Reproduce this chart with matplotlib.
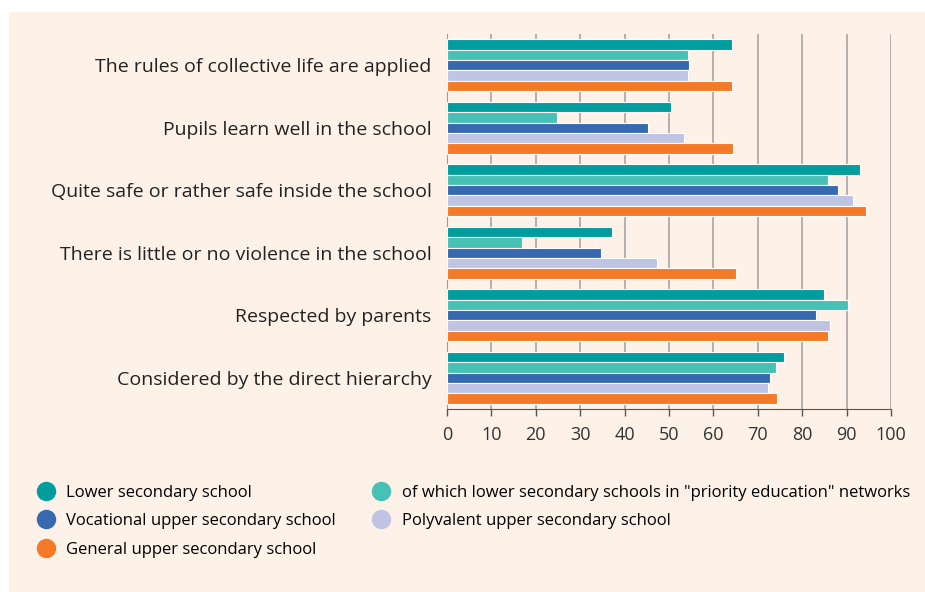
import numpy as np
import matplotlib
matplotlib.use("Agg")
import matplotlib.pyplot as plt
from matplotlib.patches import Rectangle
from matplotlib.lines import Line2D

plt.rcParams["font.family"] = ["Open Sans", "DejaVu Sans"]

categories = [
    "The rules of collective life are applied",
    "Pupils learn well in the school",
    "Quite safe or rather safe inside the school",
    "There is little or no violence in the school",
    "Respected by parents",
    "Considered by the direct hierarchy",
]
series_names = [
    "Lower secondary school",
    "of which lower secondary schools in \"priority education\" networks",
    "Vocational upper secondary school",
    "Polyvalent upper secondary school",
    "General upper secondary school",
]
lower_secondary = [64.3, 50.4, 93.1, 37.1, 84.8, 76.0]
priority_education = [54.3, 24.7, 85.9, 16.8, 90.4, 74.0]
vocational = [54.6, 45.2, 88.1, 34.7, 83.2, 72.7]
polyvalent = [54.2, 53.3, 91.4, 47.4, 86.2, 72.2]
general = [64.1, 64.4, 94.3, 65.2, 85.9, 74.3]
colors = ["#009c9e", "#47c1b5", "#3868b0", "#c0c4e3", "#f47a27"]

values = [lower_secondary, priority_education, vocational, polyvalent, general]

fig = plt.figure(figsize=(9.25, 5.92), dpi=100)
fig.patches.append(Rectangle((9 / 925, 0), 1, 1 - 12 / 592, transform=fig.transFigure,
                             facecolor="#fef1e8", edgecolor="none", zorder=-10))
ax = fig.add_axes([447 / 925, 1 - 409 / 592, 444 / 925, 375 / 592])
ax.set_facecolor("none")

h = 0.166
y = np.arange(len(categories))
for j, (vals, col) in enumerate(zip(values, colors)):
    ax.barh(y + (j - 2) * h, vals, height=h, color=col, edgecolor="white",
            linewidth=0.8, zorder=3, label=series_names[j])

ax.set_ylim(len(categories) - 0.5, -0.5)
ax.set_xlim(0, 100)
ax.set_xticks(np.arange(0, 101, 10))
ax.set_yticks(y)
ax.set_yticklabels(categories, fontsize=14, color="#222222")
ax.tick_params(axis="y", length=0, pad=11)
ax.tick_params(axis="x", length=5, width=1, color="#555555", pad=7,
               labelsize=13, labelcolor="#333333")
ax.grid(axis="x", color="#a6a6a6", linewidth=1.2, zorder=0)
for s in ["top", "right"]:
    ax.spines[s].set_visible(False)
ax.spines["bottom"].set_color("#555555")
ax.spines["left"].set_color("#9a9a9a")

order = [0, 2, 4, 1, 3]
handles = [Line2D([], [], linestyle="none", marker="o", markersize=14,
                  markerfacecolor=colors[i], markeredgecolor="none") for i in order]
fig.legend(handles, [series_names[i] for i in order], ncol=2, frameon=False,
           loc="upper left", bbox_to_anchor=(29 / 925, 1 - 478 / 592),
           fontsize=12, handletextpad=0.65, columnspacing=2.1, labelspacing=0.75,
           handlelength=1.2, borderaxespad=0)

fig.savefig("out.png", dpi=100)
